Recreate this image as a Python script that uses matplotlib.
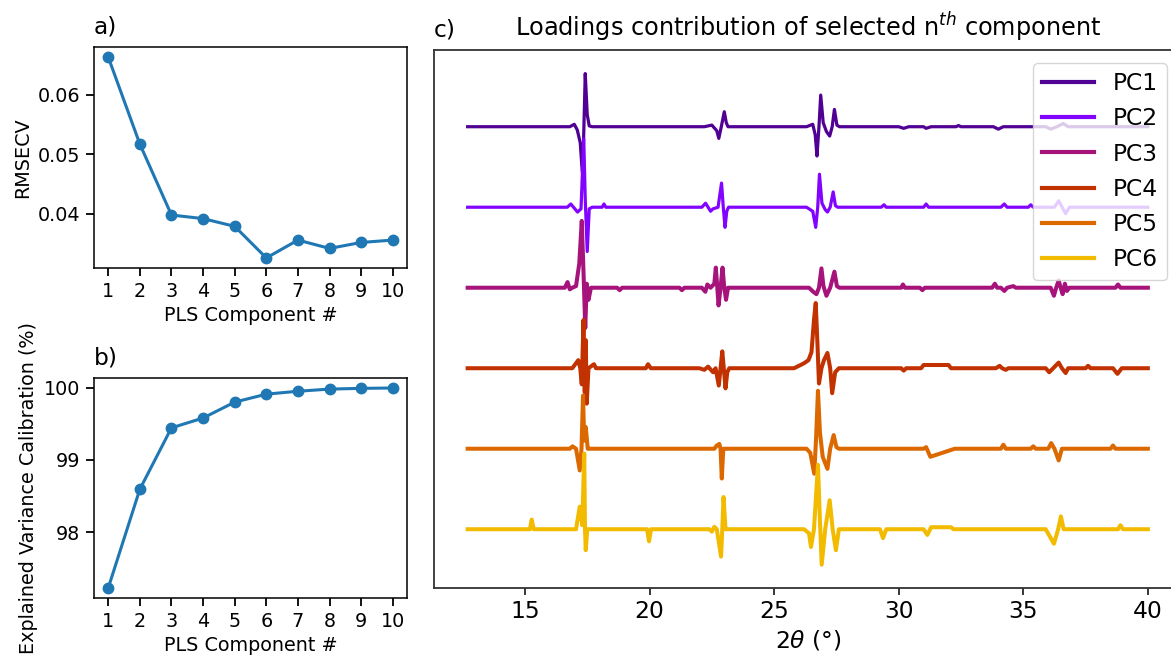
import numpy as np
import matplotlib
matplotlib.use("Agg")
import matplotlib.pyplot as plt

# ---------------- data ----------------
components = [1, 2, 3, 4, 5, 6, 7, 8, 9, 10]
rmsecv = [0.0663, 0.0517, 0.0398, 0.0392, 0.0379, 0.0326, 0.0356, 0.0342, 0.0352, 0.0356]
expl_var = [97.23, 98.595, 99.444, 99.58, 99.80, 99.91, 99.95, 99.98, 99.99, 99.995]

pc_labels = ["PC1", "PC2", "PC3", "PC4", "PC5", "PC6"]
pc_offsets = [0, -1, -2, -3, -4, -5]

pc1_x = [12.7, 16.8, 16.98, 17.1, 17.22, 17.3, 17.35, 17.42, 17.5, 17.58, 17.7,
         22.2, 22.5, 22.7, 22.78, 22.88, 23.0, 23.08, 23.15,
         26.3, 26.55, 26.65, 26.72, 26.8, 26.87, 26.97, 27.1, 27.23, 27.33, 27.42, 27.52, 27.62,
         30.0, 30.2, 30.4, 31.0, 31.1, 31.3, 32.3, 32.4, 32.5, 33.8, 34.0, 34.2,
         35.9, 36.1, 36.35, 36.6, 36.8, 40.0]
pc1_y = [0, 0, 0.03, -0.04, -0.2, -0.56, -0.2, 0.66, 0.15, 0.01, 0,
         0, 0.02, -0.05, -0.145, 0.0, 0.186, 0.05, 0,
         0, 0.03, -0.1, -0.364, 0.0, 0.393, 0.05, -0.06, -0.116, 0.0, 0.215, 0.02, 0,
         0, -0.02, 0, 0, -0.02, 0, 0, 0.015, 0, 0, -0.03, 0,
         0, -0.03, 0, 0.04, 0, 0]

pc2_x = [12.7, 16.7, 16.84, 16.95, 17.11, 17.25, 17.36, 17.42, 17.5, 17.58, 17.7, 18.1, 18.17, 18.25,
         22.1, 22.25, 22.35, 22.45, 22.55, 22.75, 22.89, 22.96, 23.03, 23.1, 23.17,
         26.3, 26.55, 26.67, 26.75, 26.82, 26.92, 27.05, 27.14, 27.25, 27.37, 27.46, 27.55,
         29.3, 29.41, 29.5, 31.0, 31.1, 31.2, 34.1, 34.24, 34.35, 35.2, 35.3, 35.4,
         36.25, 36.42, 36.56, 36.7, 36.85, 40.0]
pc2_y = [0, 0, 0.04, 0, -0.06, -0.02, 0.85, 0.1, -0.55, -0.02, 0, 0, 0.04, 0,
         0, 0.05, 0, -0.05, -0.02, 0, 0.30, 0, -0.25, -0.05, 0,
         0, -0.05, -0.25, 0.0, 0.41, 0.05, -0.03, -0.06, 0.0, 0.19, 0.02, 0,
         0, 0.03, 0, 0, 0.04, 0, 0, 0.04, 0, 0, 0.03, 0,
         0, 0.08, 0, -0.08, 0, 0]

pc3_x = [12.7, 16.6, 16.71, 16.8, 16.9, 17.05, 17.18, 17.28, 17.35, 17.42, 17.48, 17.55, 17.65,
         18.7, 18.8, 18.9, 21.2, 21.3, 21.4,
         22.1, 22.24, 22.32, 22.45, 22.6, 22.66, 22.72, 22.77, 22.85, 22.93, 23.0, 23.07, 23.15, 23.22,
         26.4, 26.57, 26.7, 26.8, 26.9, 26.98, 27.1, 27.25, 27.42, 27.52, 27.62,
         30.1, 30.17, 30.25, 30.85, 30.95, 31.05, 33.75, 33.86, 33.95, 34.1, 34.24, 34.35, 34.6, 34.7,
         36.1, 36.23, 36.32, 36.42, 36.5, 36.58, 36.67, 36.75, 36.85, 38.7, 38.8, 38.9, 40.0]
pc3_y = [0, 0, 0.07, -0.02, 0, 0.02, 0.3, 0.83, 0.2, -0.5, 0.05, -0.15, 0,
         0, -0.03, 0, 0, -0.03, 0,
         0, -0.05, 0.04, 0, 0.05, 0.25, 0, -0.22, 0, 0.25, 0, -0.15, 0, 0,
         0, -0.05, -0.08, 0, 0.24, 0.02, -0.1, 0, 0.2, 0.02, 0,
         0, 0.04, 0, 0, -0.03, 0, 0, 0.05, 0, 0, -0.04, 0, 0.02, 0,
         0, -0.1, 0.0, 0.09, 0, -0.08, 0.05, -0.04, 0, 0, 0.04, 0, 0]

pc4_x = [12.7, 16.9, 17.14, 17.22, 17.28, 17.35, 17.4, 17.44, 17.48, 17.55, 17.77, 17.85,
         19.85, 19.94, 20.05,
         22.0, 22.2, 22.35, 22.55, 22.65, 22.78, 22.85, 22.92, 22.98, 23.05, 23.12, 23.2,
         25.8, 26.19, 26.38, 26.5, 26.6, 26.67, 26.74, 26.8, 26.9, 27.0, 27.14, 27.25, 27.33, 27.45, 27.6,
         30.1, 30.2, 30.3, 30.9, 31.0, 32.0, 32.1, 33.9, 34.05, 34.15, 34.3, 34.4,
         35.9, 36.04, 36.2, 36.42, 36.55, 36.7, 36.8, 37.5, 37.6, 37.7, 38.6, 38.78, 38.95, 40.0]
pc4_y = [0, 0, 0.1, 0.0, -0.2, 0.6, -0.3, 0.35, -0.44, 0.0, 0.05, 0,
         0, 0.05, 0,
         0, -0.02, 0.02, -0.05, 0, -0.215, 0, 0.21, 0, -0.25, -0.05, 0,
         0, 0.06, 0.1, 0.2, 0.6, 0.81, 0.3, -0.19, 0.0, 0.1, 0.19, 0, -0.31, -0.05, 0,
         0, -0.03, 0, 0, 0.04, 0.04, 0, 0, 0.03, 0, -0.02, 0,
         0, -0.05, 0, 0.07, 0, -0.06, 0, 0, 0.03, 0, 0, -0.07, 0, 0]

pc5_x = [12.7, 16.8, 16.91, 17.05, 17.2, 17.27, 17.33, 17.38, 17.44, 17.52, 17.6,
         22.6, 22.7, 22.8, 22.85, 22.9, 22.96, 23.05,
         26.3, 26.45, 26.61, 26.68, 26.76, 26.84, 26.95, 27.14, 27.25, 27.39, 27.5, 27.6,
         31.0, 31.1, 31.27, 32.25, 34.1, 34.2, 34.3, 35.3, 35.4, 35.5,
         36.0, 36.12, 36.25, 36.42, 36.55, 38.5, 38.6, 38.7, 40.0]
pc5_y = [0, 0, 0.03, 0, -0.27, 0, 0.66, 0.1, 0.27, 0, 0,
         0, 0.04, 0.06, 0, -0.37, 0, 0,
         0, -0.05, -0.31, 0.1, 0.72, 0.2, -0.1, -0.25, 0, 0.17, 0.02, 0,
         0, 0.02, -0.1, 0, 0, 0.05, 0, 0, 0.03, 0,
         0, 0.07, 0, -0.145, 0, 0, 0.04, 0, 0]

pc6_x = [12.7, 15.2, 15.27, 15.35, 17.05, 17.2, 17.3, 17.38, 17.41, 17.44, 17.5,
         19.9, 19.98, 20.06,
         22.4, 22.5, 22.6, 22.7, 22.87, 22.92, 22.97, 23.05, 23.1,
         26.2, 26.4, 26.48, 26.6, 26.76, 26.84, 26.91, 27.05, 27.23, 27.35, 27.48, 27.6,
         29.25, 29.37, 29.5, 31.0, 31.15, 31.3, 32.1, 32.2,
         35.9, 36.23, 36.4, 36.51, 36.62, 38.8, 38.9, 39.0, 40.0]
pc6_y = [0, 0, 0.12, 0, 0, 0.28, 0.05, 0.94, 0.0, -0.26, 0,
         0, -0.15, 0,
         0, -0.03, 0.03, 0, -0.34, 0, 0.4, 0, 0,
         0, -0.05, -0.22, 0.0, 0.8, 0.1, -0.44, 0, 0.36, 0, -0.26, 0,
         0, -0.11, 0, 0, -0.07, 0.025, 0.025, 0,
         0, -0.18, 0, 0.16, 0, 0, 0.05, 0, 0]

pc_x = [pc1_x, pc2_x, pc3_x, pc4_x, pc5_x, pc6_x]
pc_y = [pc1_y, pc2_y, pc3_y, pc4_y, pc5_y, pc6_y]

# ---------------- figure ----------------
W, H = 1171, 662
fig = plt.figure(figsize=(W / 100, H / 100), dpi=100)

def fb(l, t, r, b):
    return [l / W, 1 - b / H, (r - l) / W, (b - t) / H]

small = 13.8
big = 16.8
blue = "#1f77b4"

ax_a = fig.add_axes(fb(94, 47, 407, 268))
ax_b = fig.add_axes(fb(94, 378, 407, 598))
ax_c = fig.add_axes(fb(434, 50, 1182, 588))

for ax in (ax_a, ax_b):
    for s in ax.spines.values():
        s.set_linewidth(1.1)
    ax.tick_params(labelsize=small, length=5.8, width=1.3, pad=4)
    ax.set_xticks(components)
    ax.set_xlabel("PLS Component #", fontsize=small)

ax_a.plot(components, rmsecv, "-o", color=blue, lw=2.2, ms=7.5)
ax_a.set_yticks([0.04, 0.05, 0.06])
ax_a.set_ylabel("RMSECV", fontsize=small)
ax_a.set_title("a)", loc="left", fontsize=big, pad=10)

ax_b.plot(components, expl_var, "-o", color=blue, lw=2.2, ms=7.5)
ax_b.set_yticks([98, 99, 100])
ax_b.set_ylabel("Explained Variance Calibration (%)", fontsize=small)
ax_b.set_title("b)", loc="left", fontsize=big, pad=10)

colors = plt.cm.gnuplot(np.linspace(0.1, 0.9, 6))
lws = [2.3, 2.3, 2.9, 2.9, 2.9, 2.9]
for xs, ys, off, lab, c, lw in zip(pc_x, pc_y, pc_offsets, pc_labels, colors, lws):
    ax_c.plot(xs, np.array(ys) + off, color=c, lw=lw, label=lab)

ax_c.set_xlim(11.35, 41.37)
ax_c.set_ylim(-5.73, 0.953)
ax_c.set_yticks([])
ax_c.set_xticks([15, 20, 25, 30, 35, 40])
ax_c.tick_params(labelsize=big, length=5, width=1.1)
for s in ax_c.spines.values():
    s.set_linewidth(1.3)
    s.set_color("#333333")
ax_c.set_xlabel(r"2$\theta$ (°)", fontsize=big)
ax_c.set_title(r"Loadings contribution of selected n$^{th}$ component", fontsize=17.3, pad=10,
               x=(808 - 434) / (1182 - 434))
ax_c.set_title("c)", loc="left", fontsize=big, pad=10)

leg = ax_c.legend(loc="upper right", fontsize=big, bbox_to_anchor=(1167 / W, 1 - 63 / H),
                  bbox_transform=fig.transFigure, borderaxespad=0, handlelength=2.2,
                  labelspacing=0.52)
for line in leg.get_lines():
    line.set_linewidth(3)

fig.savefig("out.png", dpi=100)
